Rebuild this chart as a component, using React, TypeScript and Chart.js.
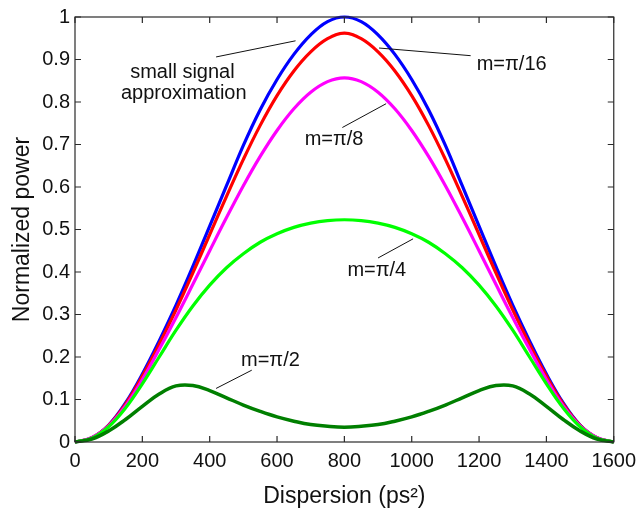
import React, { useEffect, useRef } from 'react';
import { Chart, registerables } from 'chart.js';

Chart.register(...registerables);

// Dispersion (ps^2)
const X_VALUES = [
  0, 50, 100, 150, 200, 250, 300, 350, 400, 450, 500, 550, 600, 650, 700, 750, 800,
  850, 900, 950, 1000, 1050, 1100, 1150, 1200, 1250, 1300, 1350, 1400, 1450, 1500, 1550, 1600,
];

// small signal approximation (blue)
const SMALL_SIGNAL = [
  0, 0.01, 0.04, 0.092, 0.16, 0.238, 0.322, 0.413, 0.508, 0.603, 0.698, 0.782, 0.853, 0.912, 0.958, 0.989, 1.0,
  0.989, 0.958, 0.912, 0.853, 0.782, 0.698, 0.603, 0.508, 0.413, 0.322, 0.238, 0.16, 0.092, 0.04, 0.01, 0,
];

// m = pi/16 (red)
const M_PI_16 = [
  0, 0.01, 0.039, 0.089, 0.155, 0.23, 0.311, 0.398, 0.488, 0.578, 0.665, 0.745, 0.815, 0.873, 0.918, 0.949, 0.962,
  0.949, 0.918, 0.873, 0.815, 0.745, 0.665, 0.578, 0.488, 0.398, 0.311, 0.23, 0.155, 0.089, 0.039, 0.01, 0,
];

// m = pi/8 (magenta)
const M_PI_8 = [
  0, 0.01, 0.038, 0.085, 0.147, 0.218, 0.293, 0.371, 0.45, 0.528, 0.603, 0.672, 0.733, 0.784, 0.823, 0.848, 0.857,
  0.848, 0.823, 0.784, 0.733, 0.672, 0.603, 0.528, 0.45, 0.371, 0.293, 0.218, 0.147, 0.085, 0.038, 0.01, 0,
];

// m = pi/4 (green)
const M_PI_4 = [
  0, 0.009, 0.036, 0.08, 0.137, 0.2, 0.263, 0.32, 0.369, 0.41, 0.443, 0.47, 0.49, 0.505, 0.515, 0.521, 0.523,
  0.521, 0.515, 0.505, 0.49, 0.47, 0.443, 0.41, 0.369, 0.32, 0.263, 0.2, 0.137, 0.08, 0.036, 0.009, 0,
];

// m = pi/2 (dark green)
const M_PI_2 = [
  0, 0.007, 0.026, 0.053, 0.084, 0.113, 0.132, 0.133, 0.121, 0.104, 0.087, 0.072, 0.059, 0.049, 0.041, 0.037, 0.035,
  0.037, 0.041, 0.049, 0.059, 0.072, 0.087, 0.104, 0.121, 0.133, 0.132, 0.113, 0.084, 0.053, 0.026, 0.007, 0,
];

const X_TICKS = [0, 200, 400, 600, 800, 1000, 1200, 1400, 1600];
const Y_TICKS = [0, 0.1, 0.2, 0.3, 0.4, 0.5, 0.6, 0.7, 0.8, 0.9, 1];

const X_TITLE = 'Dispersion (ps²)';
const Y_TITLE = 'Normalized power';

// annotation texts, anchored in data units
const ANNOT_TEXTS = [
  { text: 'small signal', x: 319, y: 0.857, align: 'center' },
  { text: 'approximation', x: 323, y: 0.806, align: 'center' },
  { text: 'm=π/16', x: 1193, y: 0.876, align: 'left' },
  { text: 'm=π/8', x: 682, y: 0.698, align: 'left' },
  { text: 'm=π/4', x: 809, y: 0.391, align: 'left' },
  { text: 'm=π/2', x: 493, y: 0.18, align: 'left' },
];

// leader lines, in data units
const ANNOT_LINES = [
  [419, 0.906, 655, 0.944],
  [903, 0.927, 1175, 0.909],
  [794, 0.74, 924, 0.796],
  [900, 0.433, 1004, 0.478],
  [419, 0.126, 525, 0.169],
];

const FONT = '"Liberation Sans", Arial, Helvetica, sans-serif';

export default function App() {
  const ref = useRef<HTMLCanvasElement>(null);

  useEffect(() => {
    if (!ref.current) return;
    const pts = (arr: number[]) => X_VALUES.map((x, i) => ({ x, y: arr[i] }));

    const framePlugin = {
      id: 'frameTicksAnnot',
      afterDraw(chart: any) {
        const { ctx, chartArea, scales } = chart;
        const { left, right, top, bottom } = chartArea;
        const xs = scales.x;
        const ys = scales.y;
        ctx.save();
        ctx.strokeStyle = '#2a2a2a';
        ctx.lineWidth = 1.2;
        ctx.strokeRect(left, top, right - left, bottom - top);
        const TL = 6;
        ctx.beginPath();
        X_TICKS.forEach((v) => {
          const px = xs.getPixelForValue(v);
          ctx.moveTo(px, bottom);
          ctx.lineTo(px, bottom - TL);
          ctx.moveTo(px, top);
          ctx.lineTo(px, top + TL);
        });
        Y_TICKS.forEach((v) => {
          const py = ys.getPixelForValue(v);
          ctx.moveTo(left, py);
          ctx.lineTo(left + TL, py);
          ctx.moveTo(right, py);
          ctx.lineTo(right - TL, py);
        });
        ctx.stroke();

        ctx.strokeStyle = '#111';
        ctx.lineWidth = 1;
        ctx.beginPath();
        ANNOT_LINES.forEach(([x1, y1, x2, y2]) => {
          ctx.moveTo(xs.getPixelForValue(x1), ys.getPixelForValue(y1));
          ctx.lineTo(xs.getPixelForValue(x2), ys.getPixelForValue(y2));
        });
        ctx.stroke();

        ctx.fillStyle = '#111';
        ctx.font = `20px ${FONT}`;
        ctx.textBaseline = 'alphabetic';
        ANNOT_TEXTS.forEach((a) => {
          ctx.textAlign = a.align as CanvasTextAlign;
          ctx.fillText(a.text, xs.getPixelForValue(a.x), ys.getPixelForValue(a.y));
        });
        ctx.restore();
      },
    };

    const ds = (label: string, arr: number[], color: string, w: number) => ({
      label,
      data: pts(arr),
      borderColor: color,
      backgroundColor: color,
      borderWidth: w,
      pointRadius: 0,
      fill: false,
      tension: 0.4,
      clip: false as const,
    });

    const chart = new Chart(ref.current, {
      type: 'line',
      data: {
        datasets: [
          ds('m=π/2', M_PI_2, '#007f00', 3.5),
          ds('m=π/4', M_PI_4, '#00ff00', 3.2),
          ds('m=π/8', M_PI_8, '#ff00ff', 3.2),
          ds('m=π/16', M_PI_16, '#ff0000', 3.2),
          ds('small signal approximation', SMALL_SIGNAL, '#0000ff', 3.2),
        ],
      },
      options: {
        animation: false,
        responsive: false,
        maintainAspectRatio: false,
        devicePixelRatio: 1,
        layout: { padding: { top: 15, right: 26, left: 0, bottom: 0 } },
        plugins: {
          legend: { display: false },
          tooltip: { enabled: false },
        },
        scales: {
          x: {
            type: 'linear',
            min: 0,
            max: 1600,
            afterBuildTicks: (s: any) => {
              s.ticks = X_TICKS.map((v) => ({ value: v }));
            },
            afterFit: (s: any) => {
              s.height = 70;
            },
            grid: { display: false, drawTicks: false },
            border: { display: false },
            ticks: {
              padding: 7,
              color: '#111',
              font: { family: FONT, size: 20 },
              maxRotation: 0,
              autoSkip: false,
              callback: (v: any) => String(v),
            },
            title: {
              display: true,
              text: X_TITLE,
              color: '#111',
              font: { family: FONT, size: 23 },
              padding: { top: 0, bottom: 2 },
            },
          },
          y: {
            type: 'linear',
            min: 0,
            max: 1,
            afterBuildTicks: (s: any) => {
              s.ticks = Y_TICKS.map((v) => ({ value: v }));
            },
            afterFit: (s: any) => {
              s.width = 75;
            },
            grid: { display: false, drawTicks: false },
            border: { display: false },
            ticks: {
              padding: 5,
              color: '#111',
              font: { family: FONT, size: 20 },
              autoSkip: false,
              callback: (v: any) => String(Number(Number(v).toFixed(1))),
            },
            title: {
              display: true,
              text: Y_TITLE,
              color: '#111',
              font: { family: FONT, size: 23 },
              padding: { top: 9, bottom: 0 },
            },
          },
        },
      },
      plugins: [framePlugin],
    });

    return () => chart.destroy();
  }, []);

  return (
    <div style={{ position: 'fixed', left: 0, top: 0, width: 643, height: 512, background: '#fff' }}>
      <canvas ref={ref} width={643} height={512} style={{ display: 'block', width: 643, height: 512 }} />
    </div>
  );
}
